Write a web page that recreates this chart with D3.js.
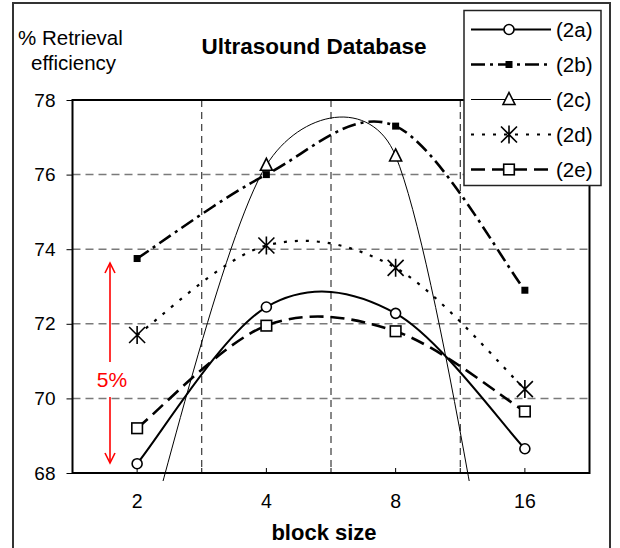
<!DOCTYPE html>
<html lang="en">
<head>
  <meta charset="UTF-8">
  <title>Ultrasound Database</title>
  <script src="https://d3js.org/d3.v7.min.js"></script>
  <style>
    body { margin: 0; background: #fff; }
    svg { display: block; font-family: "Liberation Sans", Arial, sans-serif; }
  </style>
</head>
<body>
  <svg width="620" height="548"></svg>

  <script>
    // values
    const blockSizes = ["2", "4", "8", "16"];
    const yTicks = [68, 70, 72, 74, 76, 78];
    const gridValues = [70, 72, 74, 76];
    const seriesNames = ["(2a)", "(2b)", "(2c)", "(2d)", "(2e)"];
    const values2a = [68.25, 72.45, 72.28, 68.65];
    const values2b = [73.75, 76.0, 77.3, 72.9];
    const values2c = [65.3, 76.25, 76.5, 59.3];   // 2 and 16 fall below the axis
    const values2d = [71.7, 74.1, 73.5, 70.25];
    const values2e = [69.2, 71.95, 71.8, 69.65];

    const svg = d3.select("svg");
    const plot = { left: 72.5, right: 589.5, top: 100, bottom: 473 };

    const x = d3.scaleBand().domain(blockSizes).range([plot.left, plot.right]);
    const cx = d => x(d) + x.bandwidth() / 2;
    const y = d3.scaleLinear().domain([68, 78]).range([plot.bottom, plot.top]);

    // Excel style smoothing: bezier arms 1/6 of neighbour chord, capped at half the segment
    function curveExcel(context) {
      let pts;
      const dist = (a, b) => Math.hypot(b[0] - a[0], b[1] - a[1]);
      return {
        lineStart() { pts = []; },
        point(px, py) { pts.push([+px, +py]); },
        lineEnd() {
          const n = pts.length;
          if (!n) return;
          context.moveTo(pts[0][0], pts[0][1]);
          for (let i = 0; i < n - 1; i++) {
            const p0 = pts[Math.max(i - 1, 0)], p1 = pts[i], p2 = pts[i + 1], p3 = pts[Math.min(i + 2, n - 1)];
            const half = dist(p1, p2) / 2;
            const arm = (a, b) => {
              const d = dist(a, b);
              const s = d / 6 > half ? half / d : 1 / 6;
              return [(b[0] - a[0]) * s, (b[1] - a[1]) * s];
            };
            const a1 = arm(p0, p2), a2 = arm(p1, p3);
            context.bezierCurveTo(p1[0] + a1[0], p1[1] + a1[1], p2[0] - a2[0], p2[1] - a2[1], p2[0], p2[1]);
          }
        },
        areaStart() {}, areaEnd() {}
      };
    }

    const starPath = "M-8,-8L8,8M-8,8L8,-8M0,-9L0,9";
    const series = [
      { name: seriesNames[0], values: values2a, width: 2, dash: null, marker: "circle" },
      { name: seriesNames[1], values: values2b, width: 2.6, dash: "14,5,3,5", marker: "fsquare" },
      { name: seriesNames[2], values: values2c, width: 1, dash: null, marker: "triangle" },
      { name: seriesNames[3], values: values2d, width: 2.2, dash: "3,8", marker: "star" },
      { name: seriesNames[4], values: values2e, width: 2.6, dash: "14,7", marker: "square" }
    ];

    function drawMarker(g, type, px, py) {
      if (type === "circle") {
        g.append("circle").attr("cx", px).attr("cy", py).attr("r", 5)
          .attr("fill", "#fff").attr("stroke", "#000").attr("stroke-width", 1.6);
      } else if (type === "fsquare") {
        g.append("rect").attr("x", px - 3.5).attr("y", py - 3.5).attr("width", 7).attr("height", 7).attr("fill", "#000");
      } else if (type === "square") {
        g.append("rect").attr("x", px - 5.3).attr("y", py - 5.3).attr("width", 10.6).attr("height", 10.6)
          .attr("fill", "#fff").attr("stroke", "#000").attr("stroke-width", 1.6);
      } else if (type === "triangle") {
        g.append("path").attr("d", `M${px},${py - 7}L${px + 6},${py + 5}L${px - 6},${py + 5}Z`)
          .attr("fill", "#fff").attr("stroke", "#000").attr("stroke-width", 1.6);
      } else if (type === "star") {
        g.append("path").attr("transform", `translate(${px},${py})`).attr("d", starPath)
          .attr("fill", "none").attr("stroke", "#000").attr("stroke-width", 1.6);
      }
    }

    // outer chart frame
    svg.append("rect").attr("x", 13).attr("y", 3).attr("width", 597).attr("height", 600)
      .attr("fill", "#fff").attr("stroke", "#333").attr("stroke-width", 2);

    // grid
    svg.append("g").selectAll("line").data(gridValues).join("line")
      .attr("x1", plot.left).attr("x2", plot.right)
      .attr("y1", d => y(d)).attr("y2", d => y(d))
      .attr("stroke", "#7a7a7a").attr("stroke-width", 1.5).attr("stroke-dasharray", "8,5");
    svg.append("g").selectAll("line").data(blockSizes.slice(1)).join("line")
      .attr("x1", d => x(d)).attr("x2", d => x(d))
      .attr("y1", plot.top).attr("y2", plot.bottom)
      .attr("stroke", "#111").attr("stroke-width", 1).attr("stroke-dasharray", "7,5");

    // lines, clipped to the plot (with a little bleed below like the original)
    svg.append("clipPath").attr("id", "clip").append("rect")
      .attr("x", plot.left).attr("y", plot.top).attr("width", plot.right - plot.left).attr("height", plot.bottom - plot.top + 8);

    const line = d3.line().x((d, i) => cx(blockSizes[i])).y(d => y(d)).curve(curveExcel);
    const lines = svg.append("g").attr("clip-path", "url(#clip)");
    series.forEach(s => {
      lines.append("path").datum(s.values)
        .attr("fill", "none").attr("stroke", "#000")
        .attr("stroke-width", s.width)
        .attr("stroke-dasharray", s.dash)
        .attr("d", line);
    });

    // plot border
    svg.append("rect").attr("x", plot.left).attr("y", plot.top)
      .attr("width", plot.right - plot.left).attr("height", plot.bottom - plot.top)
      .attr("fill", "none").attr("stroke", "#000").attr("stroke-width", 2);

    // axes
    const yAxis = svg.append("g").attr("transform", `translate(${plot.left},0)`)
      .call(d3.axisLeft(y).tickValues(yTicks).tickSize(6).tickPadding(11));
    yAxis.select(".domain").remove();
    yAxis.selectAll("text").attr("font-size", 19).attr("font-family", null).attr("fill", "#000");

    const xAxis = svg.append("g").attr("transform", `translate(0,${plot.bottom})`)
      .call(d3.axisBottom(x).tickSize(-5).tickPadding(21.5));
    xAxis.select(".domain").remove();
    xAxis.selectAll("text").attr("font-size", 19.5).attr("font-family", null).attr("fill", "#000");
    svg.append("g").selectAll("line").data(blockSizes.slice(1)).join("line")
      .attr("x1", d => x(d)).attr("x2", d => x(d))
      .attr("y1", plot.bottom).attr("y2", plot.bottom - 5).attr("stroke", "#000");

    // markers
    const markers = svg.append("g");
    series.forEach(s => {
      s.values.forEach((v, i) => {
        if (v >= 68 && v <= 78) drawMarker(markers, s.marker, cx(blockSizes[i]), y(v));
      });
    });

    // legend
    const legend = svg.append("g");
    legend.append("rect").attr("x", 464).attr("y", 10.5).attr("width", 137).attr("height", 175)
      .attr("fill", "#fff").attr("stroke", "#222").attr("stroke-width", 1.5);
    series.forEach((s, i) => {
      const ly = 29.5 + i * 35;
      legend.append("line").attr("x1", 471).attr("x2", 551).attr("y1", ly).attr("y2", ly)
        .attr("stroke", "#000").attr("stroke-width", s.width).attr("stroke-dasharray", s.dash);
      drawMarker(legend, s.marker, 509, ly);
      legend.append("text").attr("x", 556).attr("y", ly).attr("dy", "0.35em")
        .attr("font-size", 20.5).text(s.name);
    });

    // titles
    svg.append("text").attr("x", 314).attr("y", 54).attr("text-anchor", "middle")
      .attr("font-size", 22.5).attr("font-weight", "bold").text("Ultrasound Database");
    svg.append("text").attr("x", 324).attr("y", 540).attr("text-anchor", "middle")
      .attr("font-size", 22).attr("font-weight", "bold").text("block size");
    svg.append("text").attr("x", 18).attr("y", 45).attr("font-size", 20.5).text("% Retrieval");
    svg.append("text").attr("x", 31).attr("y", 70).attr("font-size", 20.5).text("efficiency");

    // red 5% span arrow
    const red = svg.append("g").attr("stroke", "#ff0000").attr("stroke-width", 1.6).attr("fill", "none");
    const arrowX = 110, arrowTop = 263, arrowBottom = 463;
    red.append("line").attr("x1", arrowX).attr("x2", arrowX).attr("y1", arrowTop).attr("y2", 362);
    red.append("line").attr("x1", arrowX).attr("x2", arrowX).attr("y1", 397).attr("y2", arrowBottom);
    red.append("path").attr("d", `M${arrowX - 5},${arrowTop + 10}L${arrowX},${arrowTop}L${arrowX + 5},${arrowTop + 10}`);
    red.append("path").attr("d", `M${arrowX - 5},${arrowBottom - 10}L${arrowX},${arrowBottom}L${arrowX + 5},${arrowBottom - 10}`);
    svg.append("text").attr("x", 112).attr("y", 387).attr("text-anchor", "middle")
      .attr("font-size", 21).attr("fill", "#ff0000").text("5%");
  </script>
</body>
</html>
